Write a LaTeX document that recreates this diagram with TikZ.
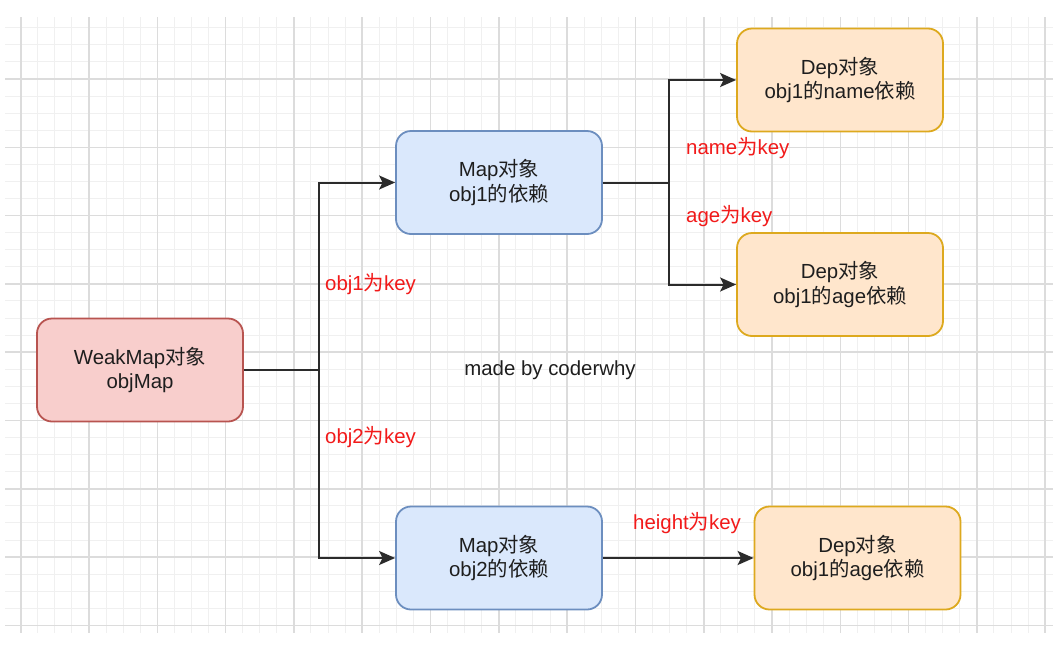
\documentclass[tikz,border=0pt]{standalone}
\usepackage{fontspec}
\setmainfont{Liberation Sans}
\newfontfamily\cjk{Noto Sans CJK SC}
\usetikzlibrary{arrows.meta}
\definecolor{gridminor}{HTML}{F0F0F0}
\definecolor{gridmajor}{HTML}{DCDCDC}
\definecolor{pinkfill}{HTML}{F8CECC}
\definecolor{pinkline}{HTML}{B85450}
\definecolor{bluefill}{HTML}{DAE8FC}
\definecolor{blueline}{HTML}{6C8EBF}
\definecolor{orfill}{HTML}{FFE6CC}
\definecolor{orline}{HTML}{DDA91E}
\definecolor{edgecol}{HTML}{2B2B2B}
\definecolor{txtcol}{HTML}{1E1E1E}
\definecolor{keyred}{HTML}{F21A1A}
\tikzset{
  box/.style={rounded corners=15pt, line width=1.8pt, minimum width=206pt, minimum height=103pt,
    align=center, text=txtcol, font=\fontsize{20.4pt}{24.8pt}\selectfont},
  wmbox/.style={box, fill=pinkfill, draw=pinkline},
  mapbox/.style={box, fill=bluefill, draw=blueline},
  depbox/.style={box, fill=orfill, draw=orline},
  conn/.style={draw=edgecol, line width=2pt},
  arr/.style={conn, -{Stealth[length=16pt, width=14pt, inset=3.5pt]}},
  keylabel/.style={text=keyred, font=\fontsize{20.4pt}{24pt}\selectfont, inner sep=0pt},
  plain/.style={text=txtcol, font=\fontsize{20.4pt}{24pt}\selectfont, inner sep=0pt},
  minorline/.style={draw=gridminor, line width=1pt},
  majorline/.style={draw=gridmajor, line width=1.6pt},
}
\begin{document}
\begin{tikzpicture}[x=1pt, y=-1pt]
\fill[white] (0,0) rectangle (1053,654);
\useasboundingbox (0,0) rectangle (1053,654);
\begin{scope}
\clip (5,17) rectangle (1053,633);
\foreach \i in {-1,...,61} { \draw[minorline] ({20.7+17.075*\i},17) -- ++(0,616); }
\foreach \j in {-4,...,33} { \draw[minorline] (5,{79+17.075*\j}) -- ++(1048,0); }
\foreach \i in {0,...,15} { \draw[majorline] ({20.7+68.3*\i},17) -- ++(0,616); }
\foreach \j in {-1,...,8} { \draw[majorline] (5,{79+68.3*\j}) -- ++(1048,0); }
\end{scope}

\node[wmbox] (wm) at (140,370) {WeakMap{\cjk 对象}\\objMap};
\node[mapbox] (m1) at (499,182.5) {Map{\cjk 对象}\\obj1{\cjk 的依赖}};
\node[mapbox] (m2) at (499,558) {Map{\cjk 对象}\\obj2{\cjk 的依赖}};
\node[depbox] (d1) at (840,80) {Dep{\cjk 对象}\\obj1{\cjk 的}name{\cjk 依赖}};
\node[depbox] (d2) at (840,284.5) {Dep{\cjk 对象}\\obj1{\cjk 的}age{\cjk 依赖}};
\node[depbox] (d3) at (857.5,558) {Dep{\cjk 对象}\\obj1{\cjk 的}age{\cjk 依赖}};

\coordinate (j1) at (319,370);
\coordinate (j2) at (669,182.5);
\draw[conn] (wm.east) -- (j1);
\draw[arr] (j1) |- (m1.west);
\draw[arr] (j1) |- (m2.west);
\draw[conn] (m1.east) -- (j2);
\draw[arr] (j2) |- (d1.west);
\draw[arr] (j2) |- (d2.west);
\draw[arr] (m2.east) -- (d3.west);

\node[keylabel, anchor=west] (k1) at (325,284) {obj1{\cjk 为}key};
\node[keylabel, anchor=west] (k2) at (325,437) {obj2{\cjk 为}key};
\node[keylabel, anchor=west] (k3) at (686,148) {name{\cjk 为}key};
\node[keylabel, anchor=west] (k4) at (686,216) {age{\cjk 为}key};
\node[keylabel, anchor=west] (k5) at (633,523) {height{\cjk 为}key};
\node[plain] (mb) at (550,370) {made by coderwhy};
\end{tikzpicture}
\end{document}
